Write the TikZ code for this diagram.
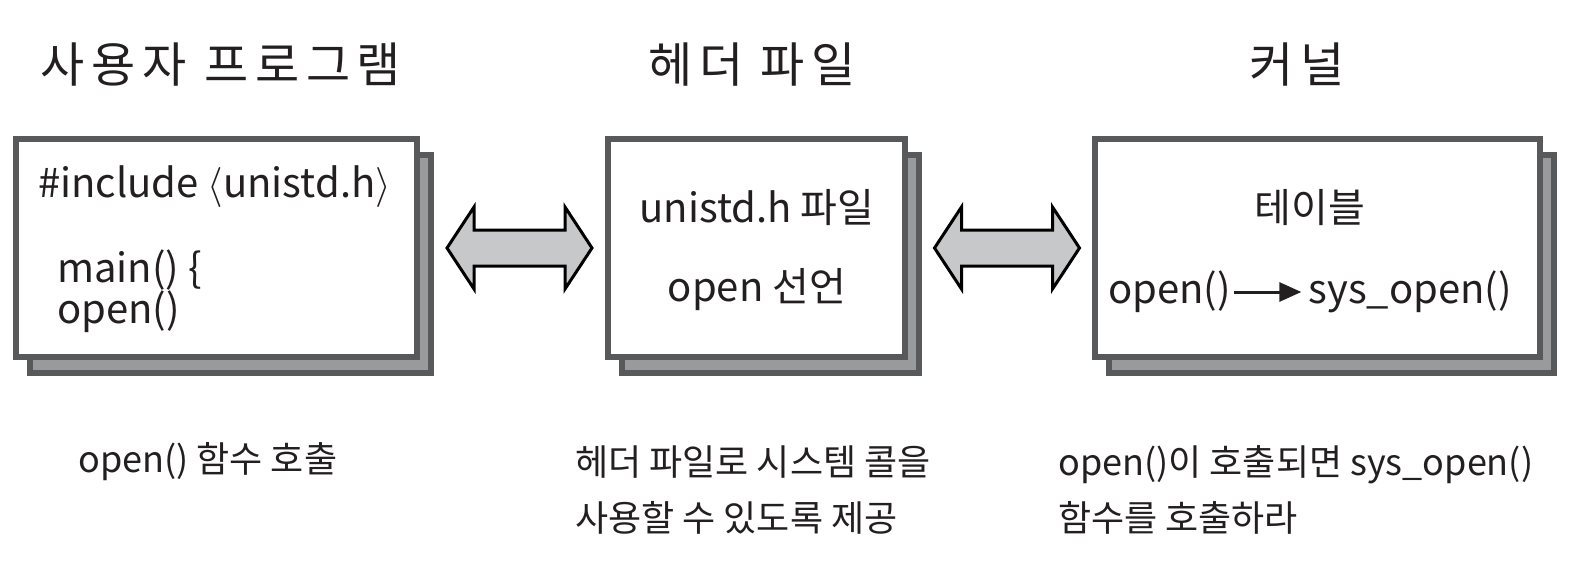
\documentclass[tikz,border=0pt]{standalone}
\usepackage{fix-cm}
\usepackage{fontspec}
\setmainfont{Noto Sans CJK KR}
\newfontfamily\titlefont[LetterSpace=14]{Noto Sans CJK KR}
\usetikzlibrary{shadows,arrows.meta,calc}
\definecolor{boxline}{HTML}{58595B}
\definecolor{shadefill}{HTML}{989A9C}
\definecolor{arrowfill}{HTML}{C7C8CA}
\definecolor{ink}{HTML}{231F20}

\tikzset{
  panel/.style={draw=boxline, line width=6pt, fill=white, minimum height=218pt, inner sep=0pt,
    copy shadow={shadow xshift=14pt, shadow yshift=-16pt, fill=shadefill, draw=boxline, line width=6pt}},
  title/.style={font=\titlefont\fontsize{48}{52}\selectfont, text=ink, inner sep=0pt},
  code/.style={font=\fontsize{40}{44}\selectfont, text=ink, inner sep=0pt},
  note/.style={font=\fontsize{36}{56}\selectfont, text=ink, inner sep=0pt, align=left, anchor=west},
  fatarrow/.style={draw=black, line width=3pt, fill=arrowfill, line join=miter}
}

\begin{document}
\begin{tikzpicture}[x=1pt,y=-1pt]
  \useasboundingbox (0,0) rectangle (1588,586);

  % titles
  \node[title] (t1) at (221,65) {사용자 프로그램};
  \node[title] (t2) at (752,65) {헤더 파일};
  \node[title] (t3) at (1297,65) {커널};

  % the three boxes
  \node[panel, minimum width=401pt] (prog) at (216.5,248) {};
  \node[panel, minimum width=297pt] (head) at (756.5,248) {};
  \node[panel, minimum width=445pt] (kern) at (1317.5,248) {};

  % user program
  \node[code, anchor=base west] (inc) at (38,197) {\#include $\langle$unistd.h$\rangle$};
  \node[code, anchor=base west] (mainfn) at (57,282) {main() \{};
  \node[code, anchor=base west] (opencall) at (57,323) {open()};

  % header file
  \node[code] (hfile) at (757,208) {unistd.h 파일};
  \node[code] (hdecl) at (757,290) {open 선언};

  % kernel
  \node[code] (tbl) at (1310,208) {테이블};
  \node[code, anchor=west] (callsrc) at (1108,292) {open()};
  \node[code, anchor=east] (calldst) at (1512,292) {sys\_open()};
  \draw[ink, line width=3pt, -{Triangle[length=22pt,width=19pt]}, shorten <=3pt, shorten >=7pt] (callsrc) -- (calldst);

  % double arrows between boxes
  \coordinate (g1) at ($(prog.east)!0.5!(head.west)+(7,0)$);
  \coordinate (g2) at ($(head.east)!0.5!(kern.west)+(7,0)$);
  \draw[fatarrow] ($(g1)+(-72.5,0)$) -- ++(27,-41) -- ++(0,23) -- ++(91,0) -- ++(0,-23) -- ++(27,41)
    -- ++(-27,41) -- ++(0,-23) -- ++(-91,0) -- ++(0,23) -- cycle;
  \draw[fatarrow] ($(g2)+(-72.5,0)$) -- ++(27,-41) -- ++(0,23) -- ++(91,0) -- ++(0,-23) -- ++(27,41)
    -- ++(-27,41) -- ++(0,-23) -- ++(-91,0) -- ++(0,23) -- cycle;

  % notes under the boxes
  \node[note] (n1) at (78,462) {open() 함수 호출};
  \node[note] (n2) at (575,490) {헤더 파일로 시스템 콜을\\사용할 수 있도록 제공};
  \node[note] (n3) at (1058,490) {open()이 호출되면 sys\_open()\\함수를 호출하라};
\end{tikzpicture}
\end{document}
